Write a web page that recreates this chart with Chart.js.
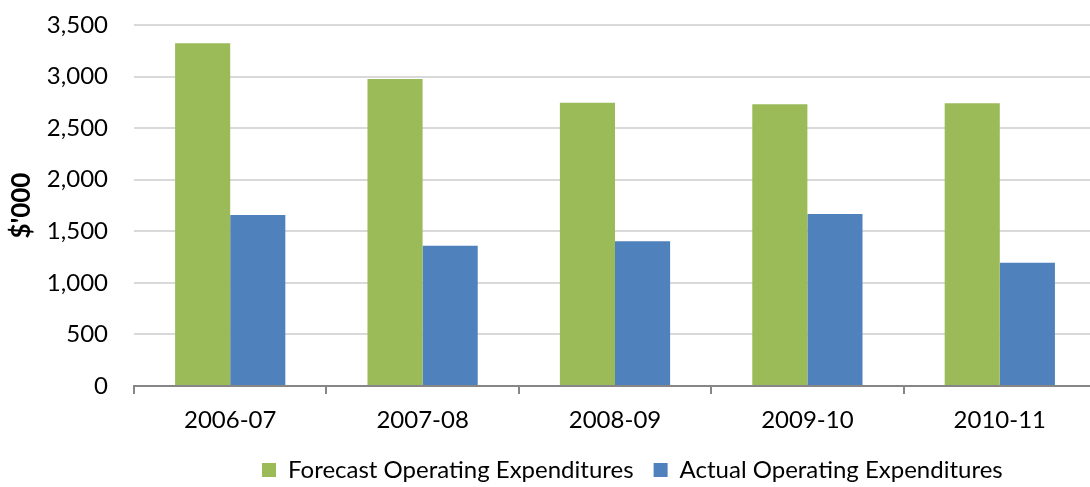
<!DOCTYPE html>
<html>
<head>
<meta charset="utf-8">
<script src="https://cdn.jsdelivr.net/npm/chart.js@4/dist/chart.umd.min.js"></script>
<style>
  html, body { margin: 0; padding: 0; background: #fff; overflow: hidden; }
  #wrap { width: 1096px; height: 487px; }
</style>
</head>
<body>
<div id="wrap"><canvas id="c" width="1096" height="487"></canvas></div>
<script>
const categories = ['2006-07', '2007-08', '2008-09', '2009-10', '2010-11'];
const forecastValues = [3323, 2976, 2747, 2731, 2741];
const actualValues = [1658, 1360, 1403, 1668, 1196];
const seriesNames = ['Forecast Operating Expenditures', 'Actual Operating Expenditures'];
const yTitle = "$'000";

const FONT = 'Lato, "Open Sans", sans-serif';
const LEGEND_LEFT = 262;     // left edge of first legend box
const LEGEND_CENTER_Y = 470; // vertical centre of legend row

const placeLegend = {
  id: 'placeLegend',
  afterLayout(chart) {
    const l = chart.legend;
    if (!l) return;
    const pad = l.options.labels.padding;
    const w = l.lineWidths ? l.lineWidths[0] : 0;
    const curStart = (l.left + pad + l.right - w) / 2;
    const dx = LEGEND_LEFT - curStart;
    l.left += dx; l.right += dx;
    const fs = l.options.labels.font.size;
    const newTop = LEGEND_CENTER_Y - pad - fs / 2;
    const dy = newTop - l.top;
    l.top += dy; l.bottom += dy;
  }
};

new Chart(document.getElementById('c'), {
  type: 'bar',
  data: {
    labels: categories,
    datasets: [
      { label: seriesNames[0], data: forecastValues, backgroundColor: '#9BBB59', borderWidth: 0 },
      { label: seriesNames[1], data: actualValues, backgroundColor: '#4F81BD', borderWidth: 0 }
    ]
  },
  options: {
    responsive: false,
    animation: false,
    devicePixelRatio: 1,
    layout: { padding: { top: 25, bottom: 0, left: 0, right: 0 } },
    datasets: { bar: { categoryPercentage: 0.573, barPercentage: 1.0 } },
    plugins: {
      legend: {
        position: 'bottom',
        labels: {
          font: { family: FONT, size: 24 },
          color: '#000',
          boxWidth: 14,
          boxHeight: 14,
          padding: 20
        }
      },
      tooltip: { enabled: false }
    },
    scales: {
      x: {
        afterFit(s) { s.height = 47; },
        grid: { offset: true, drawOnChartArea: false, drawTicks: true, tickLength: 8, color: '#868686', lineWidth: 2 },
        border: { display: true, color: '#868686', width: 2 },
        ticks: { font: { family: FONT, size: 24 }, color: '#000', padding: 12 }
      },
      y: {
        min: 0, max: 3500,
        afterFit(s) { s.width = 134; s.paddingTop = 0; s.paddingBottom = 0; },
        ticks: {
          stepSize: 500,
          font: { family: FONT, size: 24 },
          color: '#000',
          padding: 26,
          callback: v => v.toLocaleString('en-US')
        },
        grid: { color: '#D9D9D9', lineWidth: 2, drawTicks: false },
        border: { display: false },
        title: {
          display: true,
          text: yTitle,
          font: { family: FONT, size: 26, weight: 'bold' },
          color: '#000',
          padding: { top: 6, bottom: 0 }
        }
      }
    }
  },
  plugins: [placeLegend]
});
</script>
</body>
</html>
